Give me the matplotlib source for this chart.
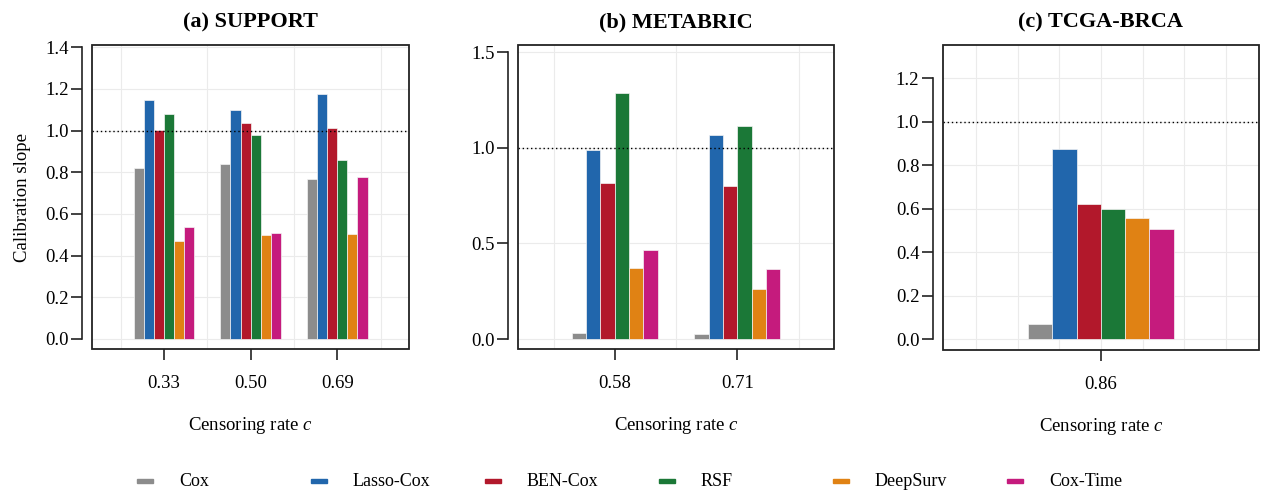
import numpy as np
import matplotlib
matplotlib.use("Agg")
import matplotlib.pyplot as plt
from matplotlib.patches import Rectangle

plt.rcParams['font.family'] = ['Liberation Serif', 'DejaVu Serif']
plt.rcParams['mathtext.fontset'] = 'custom'
plt.rcParams['mathtext.it'] = 'Liberation Serif:italic'
plt.rcParams['mathtext.rm'] = 'Liberation Serif'

# data
methods = ['Cox', 'Lasso-Cox', 'BEN-Cox', 'RSF', 'DeepSurv', 'Cox-Time']
colors = ['#8c8c8c', '#2166ac', '#b2182b', '#1b7837', '#e08214', '#c51b7d']

support_rates = ['0.33', '0.50', '0.69']
support_cox = [0.819, 0.841, 0.768]
support_lasso = [1.145, 1.098, 1.177]
support_ben = [1.003, 1.034, 1.011]
support_rsf = [1.078, 0.980, 0.860]
support_deepsurv = [0.471, 0.500, 0.503]
support_coxtime = [0.538, 0.506, 0.777]

metabric_rates = ['0.58', '0.71']
metabric_cox = [0.030, 0.024]
metabric_lasso = [0.988, 1.070]
metabric_ben = [0.814, 0.800]
metabric_rsf = [1.286, 1.115]
metabric_deepsurv = [0.373, 0.263]
metabric_coxtime = [0.467, 0.366]

tcga_rates = ['0.86']
tcga_cox = [0.069]
tcga_lasso = [0.872]
tcga_ben = [0.621]
tcga_rsf = [0.597]
tcga_deepsurv = [0.556]
tcga_coxtime = [0.504]

panels = [
    dict(title='(a) SUPPORT', rates=support_rates,
         vals=[support_cox, support_lasso, support_ben, support_rsf, support_deepsurv, support_coxtime],
         xlim=(0.167, 3.83), ylim=(-0.048, 1.41), yticks=np.arange(0, 1.41, 0.2),
         ytl=['0.0', '0.2', '0.4', '0.6', '0.8', '1.0', '1.2', '1.4'],
         vgrid=[0.5, 1.5, 2.5, 3.5], rect=[0.0730, 0.295, 0.2514, 0.614]),
    dict(title='(b) METABRIC', rates=metabric_rates,
         vals=[metabric_cox, metabric_lasso, metabric_ben, metabric_rsf, metabric_deepsurv, metabric_coxtime],
         xlim=(0.21, 2.79), ylim=(-0.052, 1.538), yticks=[0, 0.5, 1.0, 1.5],
         ytl=['0.0', '0.5', '1.0', '1.5'],
         vgrid=[0.5, 1.5, 2.5], rect=[0.4108, 0.295, 0.2506, 0.614]),
    dict(title='(c) TCGA-BRCA', rates=tcga_rates,
         vals=[tcga_cox, tcga_lasso, tcga_ben, tcga_rsf, tcga_deepsurv, tcga_coxtime],
         xlim=(0.24, 1.76), ylim=(-0.05, 1.352), yticks=np.arange(0, 1.21, 0.2),
         ytl=['0.0', '0.2', '0.4', '0.6', '0.8', '1.0', '1.2'],
         vgrid=[0.4, 0.6, 0.8, 1.0, 1.2, 1.4, 1.6], rect=[0.7478, 0.293, 0.2506, 0.616]),
]

fig = plt.figure(figsize=(12.61, 4.95), dpi=100)
w = 0.7 / 6

for k, p in enumerate(panels):
    ax = fig.add_axes(p['rect'])
    x = np.arange(1, len(p['rates']) + 1)
    for i in range(6):
        ax.bar(x + (i - 2.5) * w, p['vals'][i], width=w, color=colors[i],
               edgecolor='#f4f4f4', linewidth=0.5, zorder=3)
    ax.set_xlim(p['xlim'])
    ax.set_ylim(p['ylim'])
    for g in p['vgrid']:
        ax.axvline(g, color='#ebebeb', lw=0.8, zorder=0)
    for t in p['yticks']:
        ax.axhline(t, color='#ebebeb', lw=0.8, zorder=0)
    ax.axhline(1.0, color='black', lw=1.0, ls=(0, (1, 2)), zorder=4)

    # box around the plot
    ax.add_patch(Rectangle((0, 0), 1, 1, transform=ax.transAxes, fill=False,
                           edgecolor='#222222', lw=1.3, clip_on=False, zorder=5))
    for s in ['top', 'right', 'bottom']:
        ax.spines[s].set_visible(False)
    ax.spines['left'].set_position(('outward', 7))
    ax.spines['left'].set_bounds(p['yticks'][0], p['yticks'][-1])
    ax.spines['left'].set_color('#222222')
    ax.spines['left'].set_linewidth(1.2)

    ax.set_yticks(p['yticks'])
    ax.set_yticklabels(p['ytl'])
    ax.set_xticks(x)
    ax.set_xticklabels(p['rates'])
    ax.tick_params(axis='y', direction='out', length=8, width=1.2, color='#222222',
                   labelsize=13.5, pad=2)
    ax.tick_params(axis='x', direction='out', length=8, width=1.2, color='#222222',
                   labelsize=13.5, pad=11)
    ax.set_xlabel('Censoring rate $c$', fontsize=13.5, labelpad=16)
    if k == 0:
        ax.set_ylabel('Calibration slope', fontsize=13.5, labelpad=10)
    ax.set_title(p['title'], fontsize=16, fontweight='bold', pad=13)

# legend drawn by hand, evenly spaced like the original
for i, (name, col) in enumerate(zip(methods, colors)):
    x0 = 137 / 1261 + i * 174 / 1261
    fig.add_artist(Rectangle((x0, (495 - 483) / 495), 16 / 1261, 4 / 495,
                             transform=fig.transFigure, color=col))
    fig.text(x0 + 42 / 1261, (495 - 482) / 495, name, fontsize=13,
             ha='left', va='center')

fig.savefig('out.png', dpi=100)
